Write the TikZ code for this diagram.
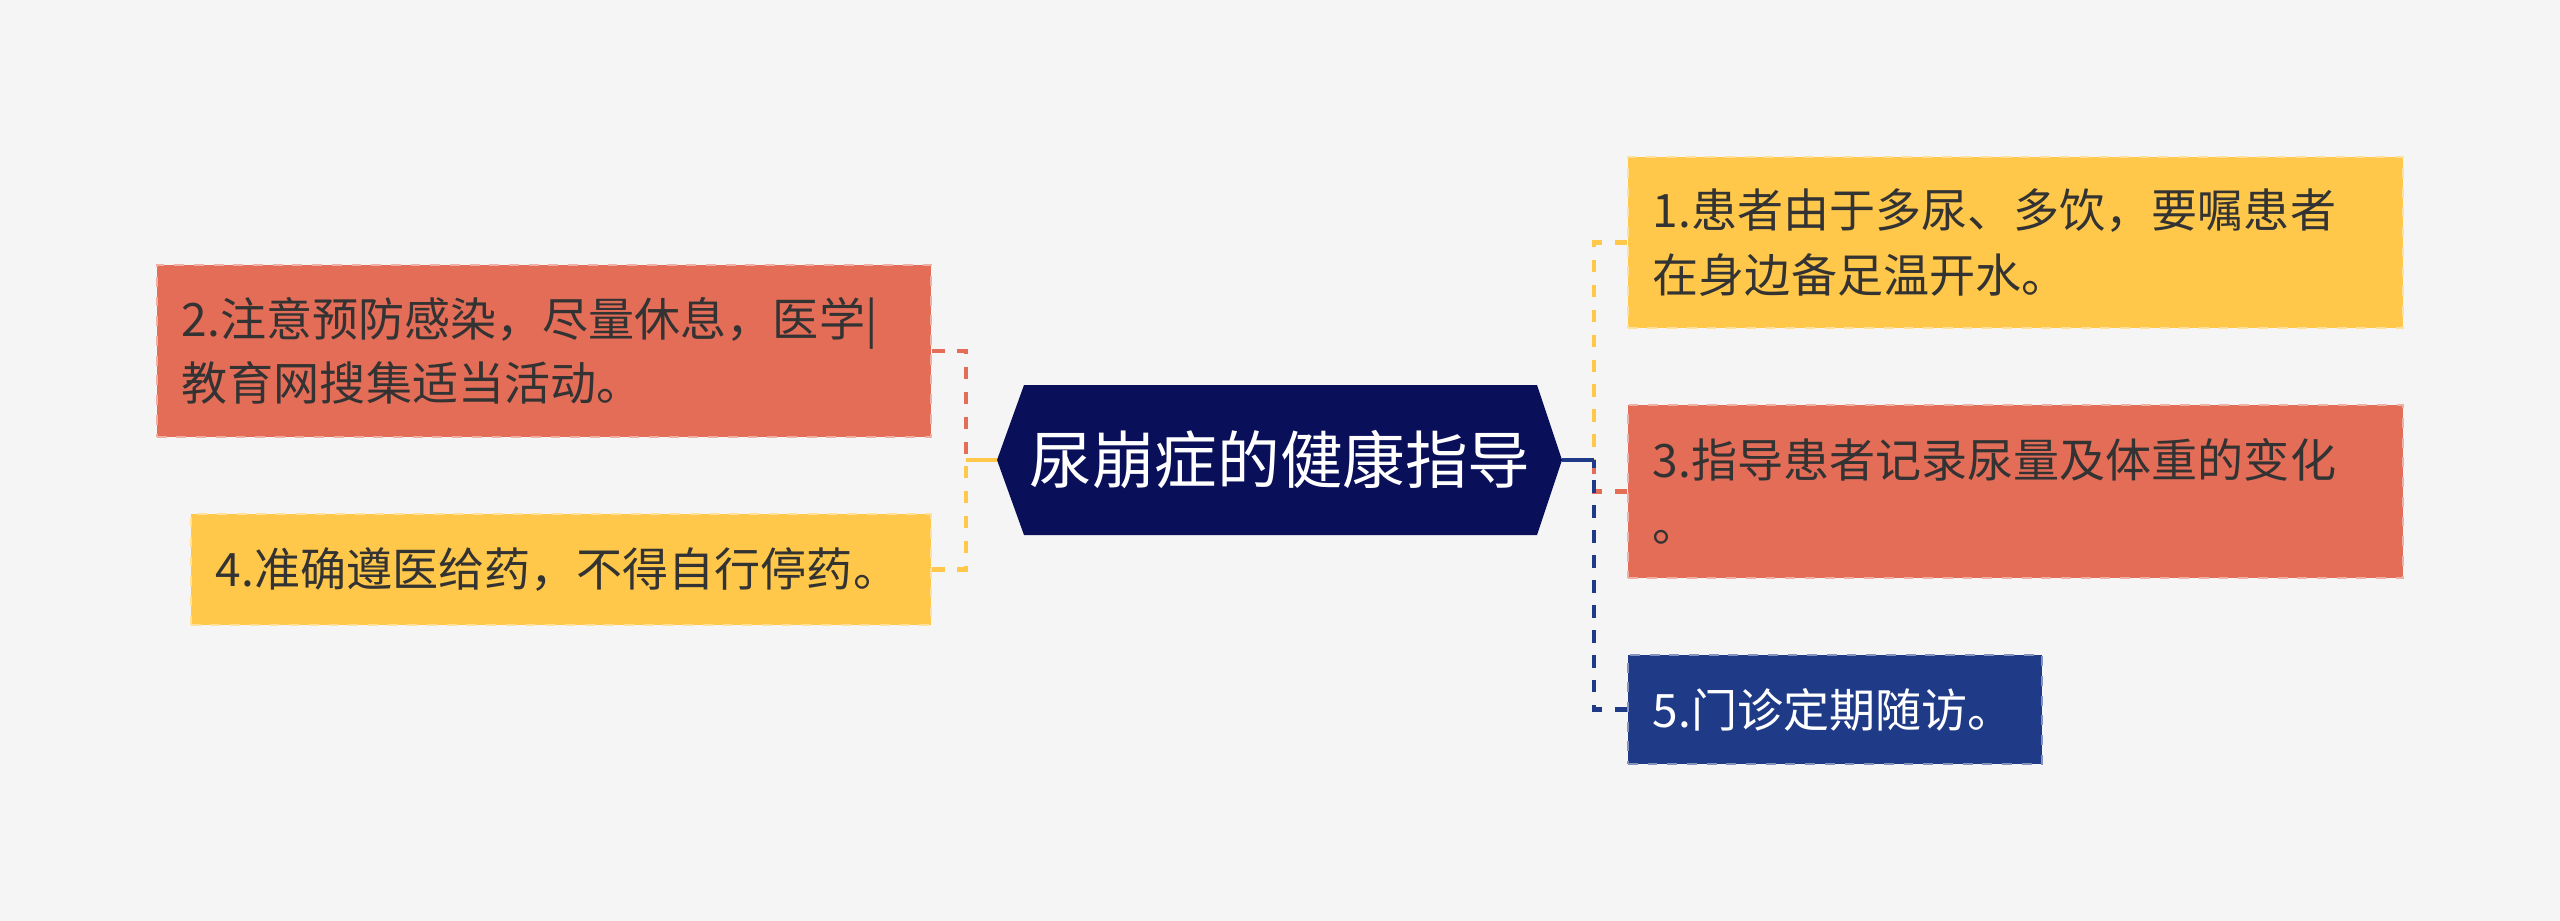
\documentclass[tikz,border=0pt]{standalone}
\usepackage{fontspec}
\setmainfont{Noto Sans CJK SC}
\definecolor{bg}{HTML}{F5F5F5}
\definecolor{cred}{HTML}{E46D58}
\definecolor{cyel}{HTML}{FFC84A}
\definecolor{cblue}{HTML}{1F3B87}
\definecolor{cnavy}{HTML}{0A0F5A}
\definecolor{ctxt}{HTML}{333333}
\begin{document}
\begin{tikzpicture}[x=0.01cm,y=-0.01cm,
  box/.style={line width=0.55pt, dash pattern=on 2.8pt off 2.8pt, inner xsep=0.25cm, inner ysep=0pt,
    align=left, font=\fontsize{13.1}{18.3}\selectfont, text=ctxt, anchor=center},
  redbox/.style={box, fill=cred, draw=cred!55!white},
  yelbox/.style={box, fill=cyel, draw=cyel!55!white},
  bluebox/.style={box, fill=cblue, draw=cblue!55!white, text=white},
  conn/.style={line width=1.3pt, dash pattern=on 3.5pt off 3.6pt},
  trunk/.style={line width=1.3pt}
]
\fill[bg] (0,0) rectangle (2560,921);
\useasboundingbox (0,0) rectangle (2560,921);

% central hexagon
\coordinate (hl) at (997,460);
\coordinate (hr) at (1562,460);
\coordinate (jl) at (966,460);
\coordinate (jr) at (1594,460);
\fill[cnavy] (1024,385) -- (1537,385) -- (hr) -- (1537,535) -- (1024,535) -- (hl) -- cycle;
\node[text=white, font=\fontsize{17.8}{20}\selectfont, inner sep=0pt] (c) at (1280,460) {尿崩症的健康指导};

% left boxes
\node[redbox, text width=7.24cm, minimum height=1.72cm] (b2) at (544,351)
  {2.注意预防感染，尽量休息，医学|\\教育网搜集适当活动。};
\node[yelbox, text width=6.90cm, minimum height=1.11cm] (b4) at (561,569.5)
  {4.准确遵医给药，不得自行停药。};

% right boxes
\node[yelbox, text width=7.25cm, minimum height=1.71cm] (b1) at (2015.5,242.5)
  {1.患者由于多尿、多饮，要嘱患者\\在身边备足温开水。};
\node[redbox, text width=7.25cm, minimum height=1.73cm] (b3) at (2015.5,491.5)
  {3.指导患者记录尿量及体重的变化\\。};
\node[bluebox, text width=3.64cm, minimum height=1.09cm] (b5) at (1835,709.5)
  {5.门诊定期随访。};

% connectors left
\draw[conn, cred] (b2.east) -| (jl);
\draw[conn, cyel] (b4.east) -| (jl);
\draw[trunk, cyel] (hl) -- (jl);

% connectors right
\draw[conn, cyel] (b1.west) -| (jr);
\draw[conn, cred] (b3.west) -| (jr);
\draw[conn, cblue] (b5.west) -| (jr);
\draw[trunk, cblue] (hr) -- (jr);
\end{tikzpicture}
\end{document}
